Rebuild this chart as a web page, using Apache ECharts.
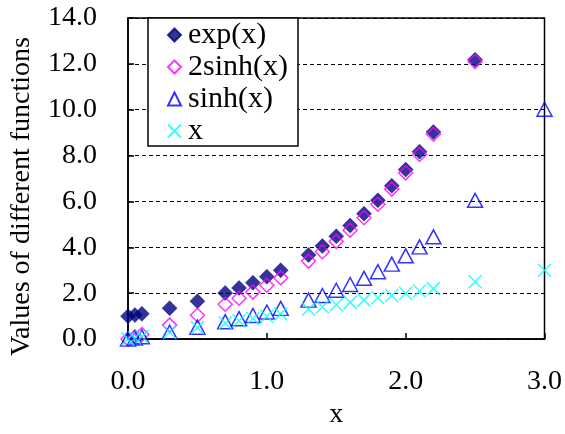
<!DOCTYPE html>
<html>
<head>
<meta charset="utf-8">
<script src="https://cdn.jsdelivr.net/npm/echarts@6/dist/echarts.min.js"></script>
<style>html,body{margin:0;padding:0;background:#fff}#c{width:565px;height:434px}</style>
</head>
<body>
<div id="c"></div>
<script>
var xValues      = [0, 0.05, 0.1, 0.3, 0.5, 0.7, 0.8, 0.9, 1.0, 1.1, 1.3, 1.4, 1.5, 1.6, 1.7, 1.8, 1.9, 2.0, 2.1, 2.2, 2.5, 3.0];
var expValues    = [1.0, 1.05, 1.1, 1.35, 1.65, 2.01, 2.23, 2.46, 2.72, 3.0, 3.67, 4.06, 4.48, 4.95, 5.47, 6.05, 6.69, 7.39, 8.17, 9.03, 12.18, null];
var twoSinhValues= [0.0, 0.1, 0.2, 0.61, 1.04, 1.52, 1.78, 2.05, 2.35, 2.67, 3.4, 3.81, 4.26, 4.75, 5.29, 5.88, 6.54, 7.25, 8.05, 8.93, 12.1, null];
var sinhValues   = [0.0, 0.05, 0.1, 0.3, 0.52, 0.76, 0.89, 1.03, 1.18, 1.34, 1.7, 1.9, 2.13, 2.38, 2.65, 2.94, 3.27, 3.63, 4.02, 4.46, 6.05, 10.02];
var xLineValues  = [0, 0.05, 0.1, 0.3, 0.5, 0.7, 0.8, 0.9, 1.0, 1.1, 1.3, 1.4, 1.5, 1.6, 1.7, 1.8, 1.9, 2.0, 2.1, 2.2, 2.5, 3.0];
var seriesNames  = ['exp(x)', '2sinh(x)', 'sinh(x)', 'x'];
var yTicks = [0, 2, 4, 6, 8, 10, 12, 14];
var xTicks = [0, 1, 2, 3];

function pairs(ys) {
  var out = [];
  for (var i = 0; i < xValues.length; i++) {
    if (ys[i] !== null) out.push([xValues[i], ys[i]]);
  }
  return out;
}

var FONT = '"Liberation Serif", "Times New Roman", serif';
var chart = echarts.init(document.getElementById('c'), null, {renderer: 'canvas'});
chart.setOption({
  animation: false,
  backgroundColor: '#fff',
  grid: {left: 128, right: 18, top: 18, bottom: 86, show: true, borderColor: '#000', borderWidth: 1.5, containLabel: false},
  xAxis: {
    type: 'value', min: xTicks[0], max: xTicks[xTicks.length - 1], interval: 1,
    name: 'x', nameLocation: 'middle', nameGap: 60,
    nameTextStyle: {fontFamily: FONT, fontSize: 28, color: '#000'},
    axisLine: {show: true, lineStyle: {color: '#000', width: 1.5}},
    axisTick: {show: true, inside: true, length: 6, lineStyle: {color: '#000', width: 1.5}},
    axisLabel: {fontFamily: FONT, fontSize: 28, color: '#000', margin: 29, formatter: function (v) { return v.toFixed(1); }},
    splitLine: {show: false}
  },
  yAxis: {
    type: 'value', min: yTicks[0], max: yTicks[yTicks.length - 1], interval: 2,
    name: 'Values of different functions', nameLocation: 'middle', nameGap: 92,
    nameTextStyle: {fontFamily: FONT, fontSize: 28, color: '#000', padding: [0, 36, 0, 0]},
    axisLine: {show: true, lineStyle: {color: '#000', width: 1.5}},
    axisTick: {show: true, inside: true, length: 6, lineStyle: {color: '#000', width: 1.5}},
    axisLabel: {fontFamily: FONT, fontSize: 28, color: '#000', margin: 31, formatter: function (v) { return v.toFixed(1); }},
    splitLine: {show: true, lineStyle: {color: '#000', width: 1, type: [4, 3]}}
  },
  legend: {
    orient: 'vertical', left: 148, top: 18,
    backgroundColor: '#fff', borderColor: '#000', borderWidth: 1.5,
    padding: [2, 10, 0, 19], itemGap: 2, itemWidth: 13, itemHeight: 13,
    textStyle: {fontFamily: FONT, fontSize: 30, color: '#000', lineHeight: 30, padding: [0, 0, 0, 2]},
    data: seriesNames
  },
  series: [
    {name: seriesNames[0], type: 'scatter', symbol: 'diamond', symbolSize: 15, z: 2,
     itemStyle: {color: '#000080', borderColor: '#000080', borderWidth: 0.5}, data: pairs(expValues)},
    {name: seriesNames[1], type: 'scatter', symbol: 'diamond', symbolSize: 14, z: 3,
     itemStyle: {color: 'rgba(0,0,0,0)', borderColor: '#FF00FF', borderWidth: 1.5}, data: pairs(twoSinhValues)},
    {name: seriesNames[2], type: 'scatter', symbol: 'triangle', symbolSize: [15, 14], z: 4,
     itemStyle: {color: 'rgba(0,0,0,0)', borderColor: '#0000FF', borderWidth: 1.5}, data: pairs(sinhValues)},
    {name: seriesNames[3], type: 'scatter', symbol: 'path://M0,0L10,10M10,0L0,10', symbolSize: 13, z: 5,
     itemStyle: {color: 'rgba(0,0,0,0)', borderColor: '#00FFFF', borderWidth: 1.5}, data: pairs(xLineValues)}
  ]
});
</script>
</body>
</html>
